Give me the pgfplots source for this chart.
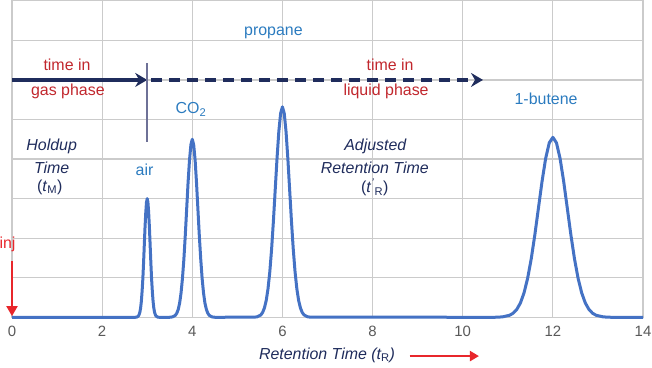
\documentclass[border=0pt]{standalone}
\usepackage{pgfplots}
\pgfplotsset{compat=1.18}
\usepackage{fontspec}
\setmainfont{Liberation Sans}
\usetikzlibrary{arrows.meta}
\definecolor{peak}{HTML}{4472C4}
\definecolor{gridc}{HTML}{CBCBCB}
\definecolor{lbl}{HTML}{2B7BBF}
\definecolor{dred}{HTML}{C1272D}
\definecolor{bred}{HTML}{E8262B}
\definecolor{navy}{HTML}{1F2C5C}
\definecolor{slate}{HTML}{6E7197}
\definecolor{tickc}{HTML}{595959}
\tikzset{lab/.style={font=\fontsize{16}{19}\selectfont, inner sep=1bp},
         ilab/.style={font=\fontsize{16}{19}\selectfont\itshape, inner sep=1bp}}
\begin{document}
\begin{tikzpicture}
\useasboundingbox (0bp,0bp) rectangle (652bp,368bp);
\begin{axis}[at={(12bp,50.7bp)}, anchor=south west, scale only axis,
  width=631bp, height=316.5bp,
  xmin=0, xmax=14, ymin=0, ymax=8,
  xtick={0,2,...,14}, ytick={0,1,...,8}, yticklabel=\empty,
  grid=major, major grid style={gridc, line width=1.2bp},
  axis line style={gridc, line width=1.2bp},
  major tick length=0pt, tick style={draw=none},
  xticklabel style={font=\fontsize{15}{18}\selectfont, text=tickc, yshift=-5.5bp},
  /pgf/number format/assume math mode=true,
  clip=false]
\addplot[peak, line width=3bp, line join=round] coordinates {
(0,0) (2.740,0.001) (2.773,0.007) (2.805,0.033) (2.821,0.068) (2.838,0.132) (2.854,0.239) (2.870,0.406) (2.886,0.649) (2.903,0.974) (2.919,1.373) (2.935,1.820) (2.951,2.264) (2.968,2.648) (2.984,2.908) (3.000,3.000) (3.016,2.908) (3.032,2.648) (3.049,2.264) (3.065,1.820) (3.081,1.373) (3.097,0.974) (3.114,0.649) (3.130,0.406) (3.146,0.239) (3.162,0.132) (3.179,0.068) (3.195,0.033) (3.228,0.007) (3.260,0.001)
(3.500,0.001) (3.563,0.010) (3.625,0.050) (3.656,0.103) (3.688,0.198) (3.719,0.358) (3.750,0.609) (3.781,0.973) (3.813,1.461) (3.844,2.060) (3.875,2.729) (3.906,3.397) (3.938,3.971) (3.969,4.361) (4.000,4.500) (4.031,4.361) (4.063,3.971) (4.094,3.397) (4.125,2.729) (4.156,2.060) (4.188,1.461) (4.219,0.973) (4.250,0.609) (4.281,0.358) (4.313,0.198) (4.344,0.103) (4.375,0.050) (4.438,0.010) (4.500,0.001)
(5.36,0.002) (5.44,0.012) (5.52,0.059) (5.56,0.121) (5.60,0.234) (5.64,0.423) (5.68,0.720) (5.72,1.151) (5.76,1.727) (5.80,2.435) (5.84,3.227) (5.88,4.016) (5.92,4.695) (5.96,5.156) (6.00,5.320) (6.04,5.156) (6.08,4.695) (6.12,4.016) (6.16,3.227) (6.20,2.435) (6.24,1.727) (6.28,1.151) (6.32,0.720) (6.36,0.423) (6.40,0.234) (6.44,0.121) (6.48,0.059) (6.56,0.012) (6.64,0.002)
(10.72,0.001) (10.88,0.010) (11.04,0.051) (11.12,0.104) (11.20,0.200) (11.28,0.362) (11.36,0.616) (11.44,0.984) (11.52,1.477) (11.60,2.083) (11.68,2.760) (11.76,3.434) (11.84,4.015) (11.92,4.410) (12.00,4.550) (12.08,4.410) (12.16,4.015) (12.24,3.434) (12.32,2.760) (12.40,2.083) (12.48,1.477) (12.56,0.984) (12.64,0.616) (12.72,0.362) (12.80,0.200) (12.88,0.104) (12.96,0.051) (13.12,0.010) (13.28,0.001) (14,0)
};
% arrows
\draw[navy, line width=3.6bp, -{Stealth[length=12bp,width=14bp,inset=4bp]}] (axis cs:0,6) -- (axis cs:3,6);
\draw[navy, line width=3.6bp, dash pattern=on 11bp off 7bp, -{Stealth[length=12bp,width=14bp,inset=4bp]}] (axis cs:3.08,6) -- (axis cs:10.45,6);
\draw[slate, line width=1.5bp] (axis cs:3,6.42) -- (axis cs:3,4.43);
\draw[bred, line width=2bp, -{Triangle[length=10bp,width=11bp]}] (axis cs:0,1.42) -- (axis cs:0,0.03);
\draw[bred, line width=2.5bp, -{Triangle[length=9bp,width=10bp]}] (axis cs:8.82,-0.98) -- (axis cs:10.36,-0.98);
% labels
\node[lab, text=lbl] at (axis cs:5.80,7.20) {propane};
\node[lab, text=dred] at (axis cs:1.22,6.39) {time in};
\node[lab, text=dred] at (axis cs:1.24,5.70) {gas phase};
\node[lab, text=dred] at (axis cs:8.39,6.39) {time in};
\node[lab, text=dred] at (axis cs:8.30,5.70) {liquid phase};
\node[lab, text=lbl] at (axis cs:3.97,5.26) {CO\textsubscript{2}};
\node[lab, text=lbl] at (axis cs:2.94,3.73) {air};
\node[lab, text=lbl] at (axis cs:11.85,5.53) {1-butene};
\node[ilab, text=navy] at (axis cs:0.88,4.31) {Holdup};
\node[ilab, text=navy] at (axis cs:0.88,3.78) {Time};
\node[lab, text=navy] at (axis cs:0.84,3.29) {(\textit{t}\textsubscript{M})};
\node[ilab, text=navy] at (axis cs:8.06,4.31) {Adjusted};
\node[ilab, text=navy] at (axis cs:8.05,3.78) {Retention Time};
\node[lab, text=navy] at (axis cs:8.05,3.29) {(\textit{t}\textsuperscript{\textit{'}}\textsubscript{R})};
\node[lab, text=bred] at (axis cs:-0.10,1.85) {inj};
\node[ilab, text=navy] at (axis cs:6.99,-0.95) {Retention Time (\textit{t}\textsubscript{\upshape R})};
\end{axis}
\end{tikzpicture}
\end{document}
